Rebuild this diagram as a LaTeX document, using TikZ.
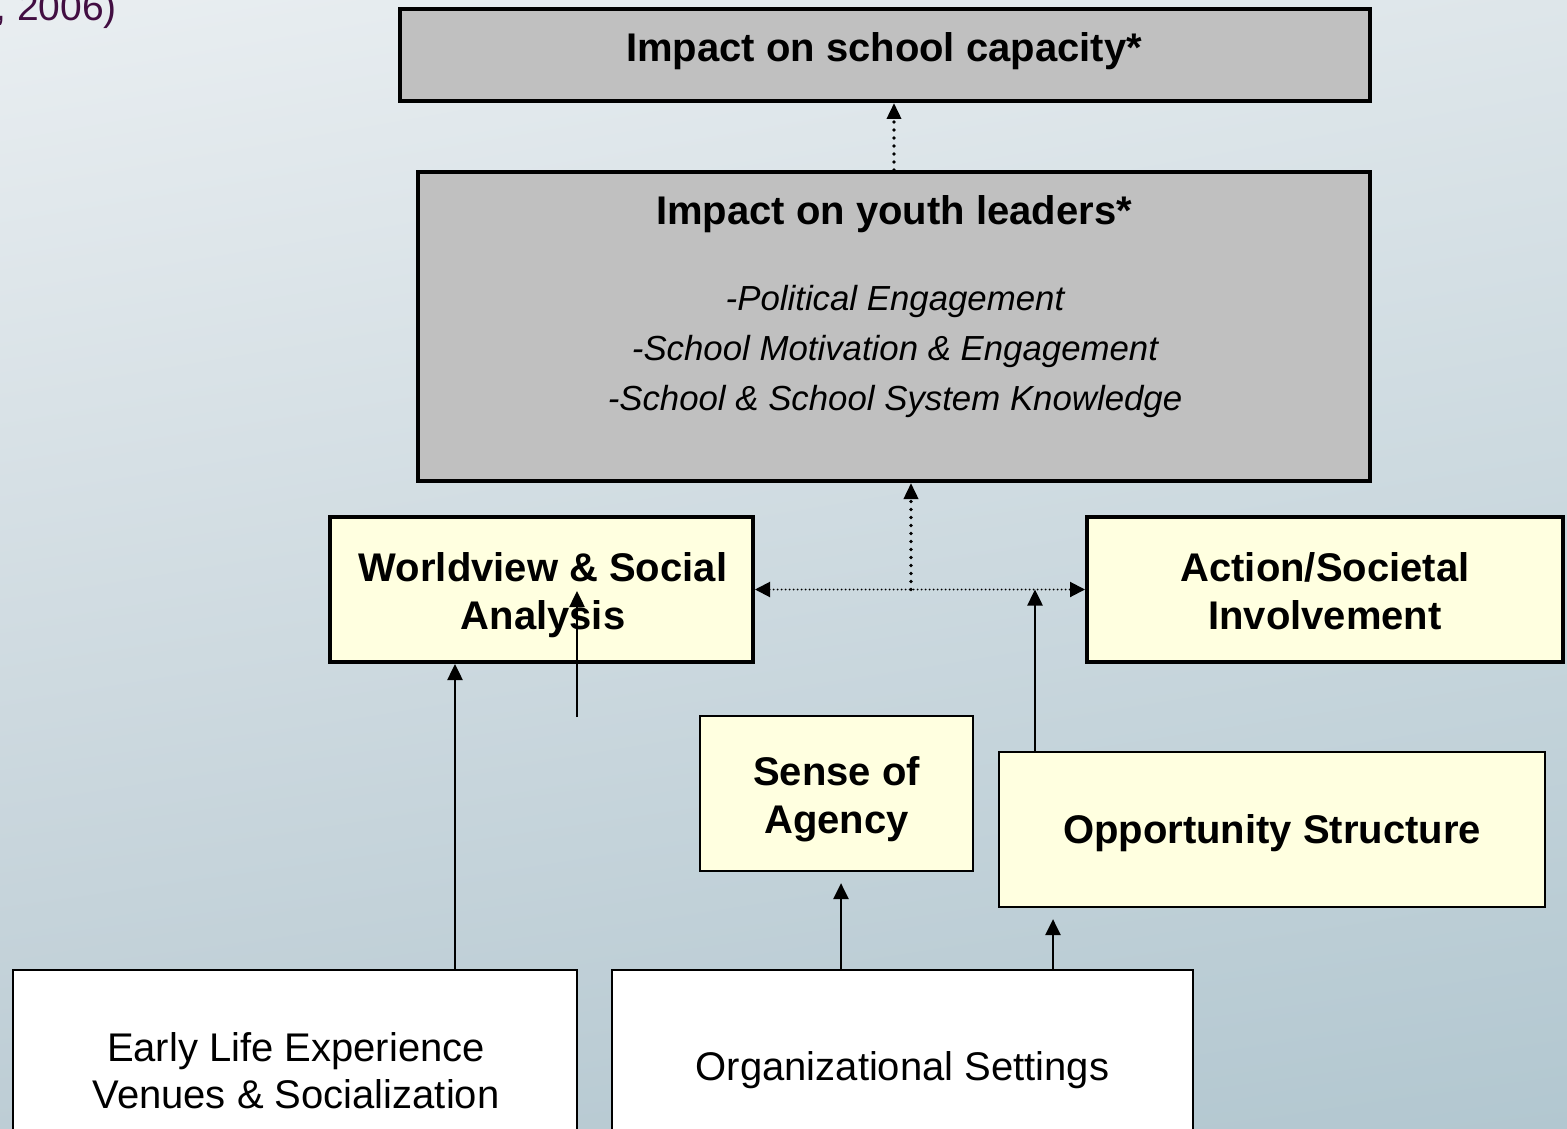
\documentclass[tikz,border=0pt]{standalone}
\usepackage{fontspec}
\setmainfont{Liberation Sans}
\usetikzlibrary{arrows.meta,shadings}

\definecolor{bgUL}{RGB}{233,238,241}
\definecolor{bgUR}{RGB}{222,230,234}
\definecolor{bgLL}{RGB}{189,205,213}
\definecolor{bgLR}{RGB}{178,199,208}
\definecolor{impactgray}{RGB}{192,192,192}
\definecolor{paleyellow}{RGB}{255,255,224}
\definecolor{citeplum}{RGB}{66,14,66}

\tikzset{
  graybox/.style={draw=black, line width=4pt, fill=impactgray},
  yellowbox/.style={draw=black, line width=4pt, fill=paleyellow},
  yellowthin/.style={draw=black, line width=2.2pt, fill=paleyellow},
  whitebox/.style={draw=black, line width=2pt, fill=white},
  headline/.style={anchor=base, font=\fontsize{40}{48}\selectfont\bfseries, inner sep=0pt},
  plainline/.style={anchor=base, font=\fontsize{40}{48}\selectfont, inner sep=0pt},
  itemline/.style={anchor=base, font=\fontsize{34.8}{40}\selectfont\itshape, inner sep=0pt},
  solidarrow/.style={line width=2.5pt, -{Triangle[length=16pt,width=15pt]}},
  dotarrow/.style={line width=3.6pt, line cap=round, dash pattern=on 0pt off 8pt,
    -{Triangle[length=16pt,width=14pt]}},
  dotlink/.style={line width=2pt, line cap=round, dash pattern=on 0pt off 4pt,
    {Triangle[length=15pt,width=15pt]}-{Triangle[length=15pt,width=15pt]}},
}

\begin{document}
\begin{tikzpicture}[x=1pt, y=-1pt]
  \useasboundingbox (0,0) rectangle (1567,1129);
  \clip (0,0) rectangle (1567,1129);

  % background
  \shade[upper left=bgUL, upper right=bgUR, lower left=bgLL, lower right=bgLR]
    (0,0) rectangle (1567,1129);

  % citation fragment in the corner
  \node[anchor=base east, inner sep=0pt, text=citeplum,
        font=\fontsize{39}{46}\selectfont] (cite) at (117,20.5) {, 2006)};

  % outcome boxes
  \node[graybox, minimum width=970pt, minimum height=92pt] (cap) at (885,55) {};
  \node[headline] (capt) at (884,62) {Impact on school capacity*};

  \node[graybox, minimum width=952pt, minimum height=309pt] (youth) at (894,326.5) {};
  \node[headline] (youtht) at (894,225) {Impact on youth leaders*};
  \node[itemline] (y1) at (895,310) {-Political Engagement};
  \node[itemline] (y2) at (895,360) {-School Motivation \& Engagement};
  \node[itemline] (y3) at (895,410) {-School \& School System Knowledge};

  % middle tier
  \node[yellowbox, minimum width=423pt, minimum height=145pt] (wv) at (541.5,589.5) {};
  \node[headline] (wv1) at (543,581) {Worldview \& Social};
  \node[headline] (wv2) at (543,629) {Analysis};

  \node[yellowbox, minimum width=476pt, minimum height=145pt] (act) at (1325,589.5) {};
  \node[headline] (act1) at (1325,581) {Action/Societal};
  \node[headline] (act2) at (1325,629) {Involvement};

  \node[yellowthin, minimum width=273pt, minimum height=155pt] (sense) at (836.5,793.5) {};
  \node[headline] (sense1) at (836.5,785) {Sense of};
  \node[headline] (sense2) at (836.5,833) {Agency};

  \node[yellowthin, minimum width=546pt, minimum height=155pt] (opp) at (1272,829.5) {};
  \node[headline] (oppt) at (1272,843) {Opportunity Structure};

  % bottom tier (runs off the lower edge)
  \node[whitebox, minimum width=564pt, minimum height=170pt] (early) at (295,1055) {};
  \node[plainline] (early1) at (296,1061) {Early Life Experience};
  \node[plainline] (early2) at (296,1108) {Venues \& Socialization};

  \node[whitebox, minimum width=581pt, minimum height=170pt] (org) at (902.5,1055) {};
  \node[plainline] (orgt) at (902.5,1080) {Organizational Settings};

  % helper coordinates for connector columns
  \coordinate (j) at (911,589.5);
  \coordinate (ea) at (455,0);
  \coordinate (oa) at (1035,0);
  \coordinate (sa) at (841,0);
  \coordinate (pa) at (1053,0);
  \coordinate (s0) at (577,717);
  \coordinate (s1) at (577,591);

  % dotted links
  \draw[dotarrow] (youth.north) -- (youth.north |- cap.south);
  \draw[dotarrow] (j) -- (j |- youth.south);
  \draw[dotlink] (wv.east) -- (act.west);

  % solid arrows
  \draw[solidarrow] (ea |- early.north) -- (ea |- wv.south);
  \draw[solidarrow] (s0) -- (s1);
  \draw[solidarrow] (oa |- opp.north) -- (oa |- j);
  \draw[solidarrow, shorten >=11pt] (sa |- org.north) -- (sa |- sense.south);
  \draw[solidarrow, shorten >=11pt] (pa |- org.north) -- (pa |- opp.south);
\end{tikzpicture}
\end{document}
